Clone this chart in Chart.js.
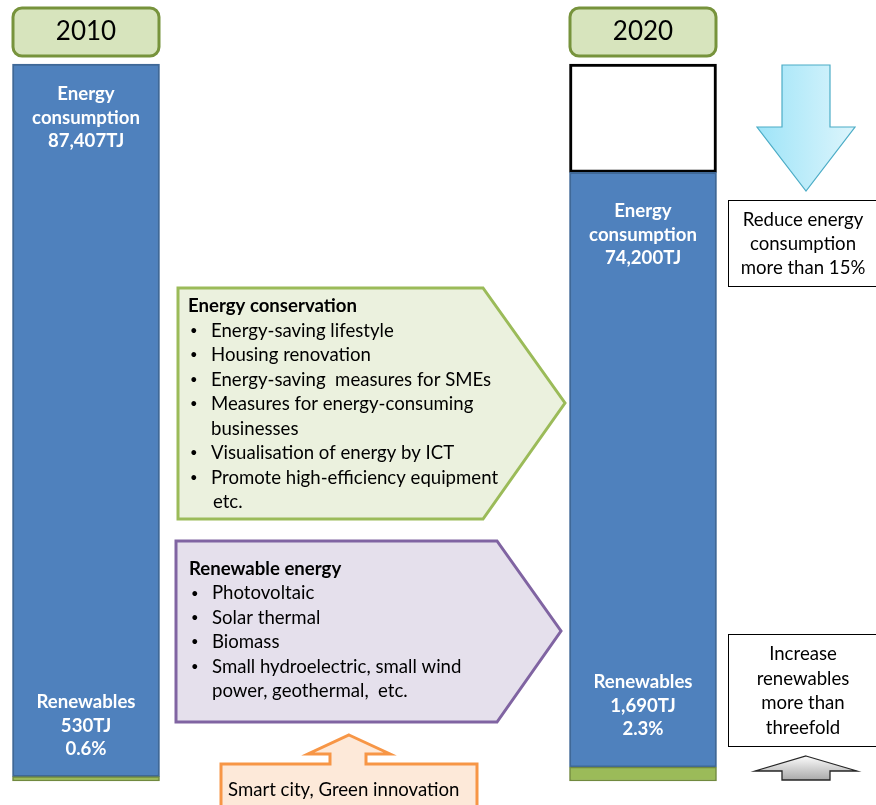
<!DOCTYPE html>
<html>
<head>
<meta charset="utf-8">
<script src="https://cdn.jsdelivr.net/npm/chart.js@4"></script>
<style>
  body { margin: 0; background: #fff; }
  #wrap { width: 876px; height: 805px; position: relative; }
</style>
</head>
<body>
<div id="wrap"><canvas id="energyChart"></canvas></div>
<script>
const years = ['2010', '2020'];
const consumption = [87407, 74200];      // TJ
const renewables = [530, 1690];          // TJ
const renewShare = ['0.6%', '2.3%'];

const conservationTitle = 'Energy conservation';
const conservationItems = [
  ['Energy-saving lifestyle'],
  ['Housing renovation'],
  ['Energy-saving  measures for SMEs'],
  ['Measures for energy-consuming', 'businesses'],
  ['Visualisation of energy by ICT'],
  ['Promote high-efficiency equipment', 'etc.']
];
const renewableTitle = 'Renewable energy';
const renewableItems = [
  ['Photovoltaic'],
  ['Solar thermal'],
  ['Biomass'],
  ['Small hydroelectric, small wind', 'power, geothermal,  etc.']
];
const reduceNote = ['Reduce energy', 'consumption', 'more than 15%'];
const increaseNote = ['Increase', 'renewables', 'more than', 'threefold'];
const bottomNote = 'Smart city, Green innovation';

const fmt = v => v.toLocaleString('en-US');
const otherUse = consumption.map((v, i) => v - renewables[i]);
const reduction = [null, consumption[0] - consumption[1]];

const FONT = 'Lato, "Open Sans", sans-serif';
const BODY = '18.6px ' + FONT;

function poly(ctx, pts, fill, stroke, lw) {
  ctx.beginPath();
  ctx.moveTo(pts[0][0], pts[0][1]);
  for (let i = 1; i < pts.length; i++) ctx.lineTo(pts[i][0], pts[i][1]);
  ctx.closePath();
  ctx.fillStyle = fill;
  ctx.fill();
  ctx.lineWidth = lw;
  ctx.strokeStyle = stroke;
  ctx.stroke();
}

function roundBox(ctx, x, y, w, h, r, fill, stroke, lw) {
  ctx.beginPath();
  ctx.roundRect(x, y, w, h, r);
  ctx.fillStyle = fill;
  ctx.fill();
  ctx.lineWidth = lw;
  ctx.strokeStyle = stroke;
  ctx.stroke();
}

function bulletBlock(ctx, x, y, title, items, step) {
  ctx.textAlign = 'left';
  ctx.textBaseline = 'middle';
  ctx.fillStyle = '#000';
  ctx.font = 'bold 18.6px ' + FONT;
  ctx.fillText(title, x, y);
  let yy = y + step;
  items.forEach(lines => {
    ctx.font = '13px ' + FONT;
    ctx.fillText('\u2022', x + 2, yy);
    ctx.font = BODY;
    lines.forEach(t => {
      const isEtc = t === 'etc.';
      ctx.fillText(t, x + (isEtc ? 25 : 23), yy);
      yy += step;
    });
  });
}

function centered(ctx, lines, cx, y, step, font, color) {
  ctx.font = font;
  ctx.fillStyle = color;
  ctx.textAlign = 'center';
  ctx.textBaseline = 'middle';
  lines.forEach((t, i) => ctx.fillText(t, cx, y + i * step));
}

// text inside the bars + the surrounding diagram shapes
const diagram = {
  id: 'diagram',
  afterDatasetsDraw(chart) {
    const ctx = chart.ctx;
    const renewMeta = chart.getDatasetMeta(0);
    const useMeta = chart.getDatasetMeta(1);
    ctx.save();

    // year tags above each bar
    useMeta.data.forEach((bar, i) => {
      roundBox(ctx, bar.x - 73, 8, 146, 48, 9, '#D7E4BD', '#77933C', 3);
      centered(ctx, [years[i]], bar.x, 32, 0, '26px ' + FONT, '#000');
    });

    // consumption labels at the top of the blue segment
    const topOffsets = [30, 39];
    useMeta.data.forEach((bar, i) => {
      centered(ctx, ['Energy', 'consumption', fmt(consumption[i]) + 'TJ'],
        bar.x, bar.y + topOffsets[i], 23.5, 'bold 18.6px ' + FONT, '#fff');
    });

    // renewables labels just above the green segment
    const bottomOffsets = [79, 99];
    renewMeta.data.forEach((bar, i) => {
      centered(ctx, ['Renewables', fmt(renewables[i]) + 'TJ', renewShare[i]],
        bar.x, bar.base - bottomOffsets[i], 23.5, 'bold 18.6px ' + FONT, '#fff');
    });

    // energy conservation pentagon
    poly(ctx, [[178, 288], [483, 288], [565, 403], [483, 519], [178, 519]], '#EBF1DE', '#9BBB59', 3);
    bulletBlock(ctx, 188, 306, conservationTitle, conservationItems, 24.5);

    // renewable energy pentagon
    poly(ctx, [[176, 541], [497, 541], [561, 631], [497, 722], [176, 722]], '#E5E0EC', '#8064A2', 3);
    bulletBlock(ctx, 189, 569, renewableTitle, renewableItems, 24.4);

    // smart city arrow
    poly(ctx, [[349, 735], [390, 754], [366, 754], [366, 764], [477, 764], [477, 812],
      [221, 812], [221, 764], [330, 764], [330, 754], [308, 754]], '#FDE9D9', '#F79646', 3);
    ctx.font = BODY;
    ctx.fillStyle = '#000';
    ctx.textAlign = 'left';
    ctx.textBaseline = 'middle';
    ctx.fillText(bottomNote, 228, 790);

    // down arrow for the reduction
    const g = ctx.createLinearGradient(757, 0, 855, 0);
    g.addColorStop(0, '#9EE4F8');
    g.addColorStop(1, '#DDF5FC');
    poly(ctx, [[782, 65], [830, 65], [830, 127], [855, 127], [806, 191], [757, 127], [782, 127]],
      g, '#4BACC6', 1.2);

    ctx.fillStyle = '#fff';
    ctx.fillRect(728.5, 200.5, 150, 86);
    ctx.lineWidth = 1;
    ctx.strokeStyle = '#000';
    ctx.strokeRect(728.5, 200.5, 150, 86);
    centered(ctx, reduceNote, 803, 220, 24, BODY, '#000');

    ctx.fillStyle = '#fff';
    ctx.fillRect(728.5, 634.5, 150, 112);
    ctx.strokeRect(728.5, 634.5, 150, 112);
    centered(ctx, increaseNote, 803, 654, 24.5, BODY, '#000');

    // small up arrow for the renewables increase
    const g2 = ctx.createLinearGradient(0, 755, 0, 781);
    g2.addColorStop(0, '#FFFFFF');
    g2.addColorStop(1, '#A6A6A6');
    poly(ctx, [[806, 756], [857, 771], [830, 771], [830, 780], [782, 780], [782, 771], [755, 771]],
      g2, '#262626', 1.3);

    ctx.restore();
  }
};

new Chart(document.getElementById('energyChart'), {
  type: 'bar',
  data: {
    labels: years,
    datasets: [
      {
        label: 'Renewables',
        data: renewables,
        backgroundColor: '#9BBB59',
        borderColor: '#71893F',
        borderWidth: 1.5,
        borderSkipped: false,
        clip: false
      },
      {
        label: 'Energy consumption',
        data: otherUse,
        backgroundColor: '#4F81BD',
        borderColor: '#3F6897',
        borderWidth: 2,
        borderSkipped: false,
        clip: false
      },
      {
        label: 'Reduction',
        data: reduction,
        backgroundColor: '#FFFFFF',
        borderColor: '#000000',
        borderWidth: 3,
        borderSkipped: false,
        clip: false
      }
    ]
  },
  options: {
    responsive: true,
    maintainAspectRatio: false,
    animation: false,
    layout: { padding: { left: 86, right: 233, top: 64, bottom: 24 } },
    datasets: { bar: { barThickness: 147 } },
    scales: {
      x: { stacked: true, offset: false, display: false },
      y: { stacked: true, min: 0, max: consumption[0], display: false }
    },
    plugins: {
      legend: { display: false },
      tooltip: { enabled: false }
    }
  },
  plugins: [diagram]
});
</script>
</body>
</html>
